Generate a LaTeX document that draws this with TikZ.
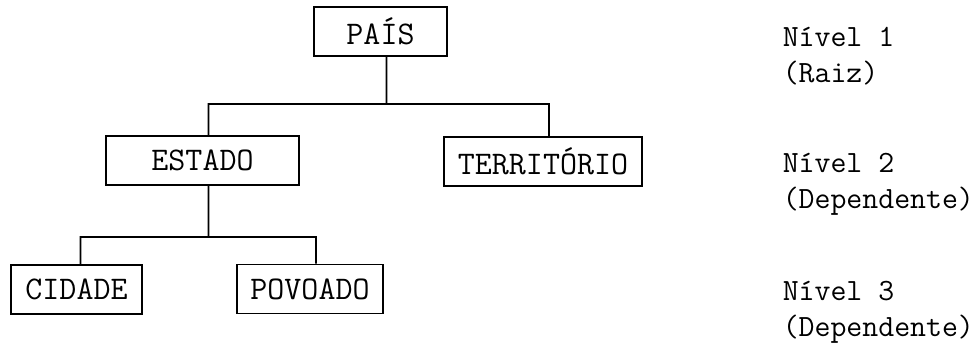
\documentclass[tikz,border=0pt]{standalone}
\usepackage{tikz}
\usetikzlibrary{positioning}
\tikzset{
  every node/.style={font=\ttfamily\fontsize{22pt}{21pt}\selectfont},
  entity/.style={draw, line width=1.1pt, minimum height=1.225cm, inner sep=0pt,
    font=\ttfamily\fontsize{23.5pt}{24pt}\selectfont},
  level text/.style={align=left, anchor=base west, inner sep=0pt}
}
\begin{document}
\begin{tikzpicture}[line width=1.1pt]
\useasboundingbox (0,0) rectangle (24.4,8.725);
\node[entity, minimum width=3.325cm] (pais) at (9.5125,7.9375) {PAÍS};
\node[entity, minimum width=4.825cm] (estado) at (5.0625,4.7125) {ESTADO};
\node[entity, minimum width=4.95cm] (territorio) at (13.575,4.6875) {TERRITÓRIO};
\node[entity, minimum width=3.275cm] (cidade) at (1.9125,1.4875) {CIDADE};
\node[entity, minimum width=3.65cm] (povoado) at (7.75,1.5) {POVOADO};
\coordinate (j1) at (9.6625,6.125);
\coordinate (j2) at (5.2125,2.8);
\draw ([xshift=1.5mm]pais.south) -- (j1)
      ([xshift=1.5mm]estado.north) |- (j1) -| ([xshift=1.5mm]territorio.north);
\draw ([xshift=1.5mm]estado.south) -- (j2)
      ([xshift=1mm]cidade.north) |- (j2) -| ([xshift=1.5mm]povoado.north);
\node[level text] (nivel1) at (19.55,6.65) {Nível 1\\[5pt](Raiz)};
\node[level text] (nivel2) at (19.55,3.5) {Nível 2\\[5pt](Dependente)};
\node[level text] (nivel3) at (19.55,0.3) {Nível 3\\[5pt](Dependente)};
\end{tikzpicture}
\end{document}
